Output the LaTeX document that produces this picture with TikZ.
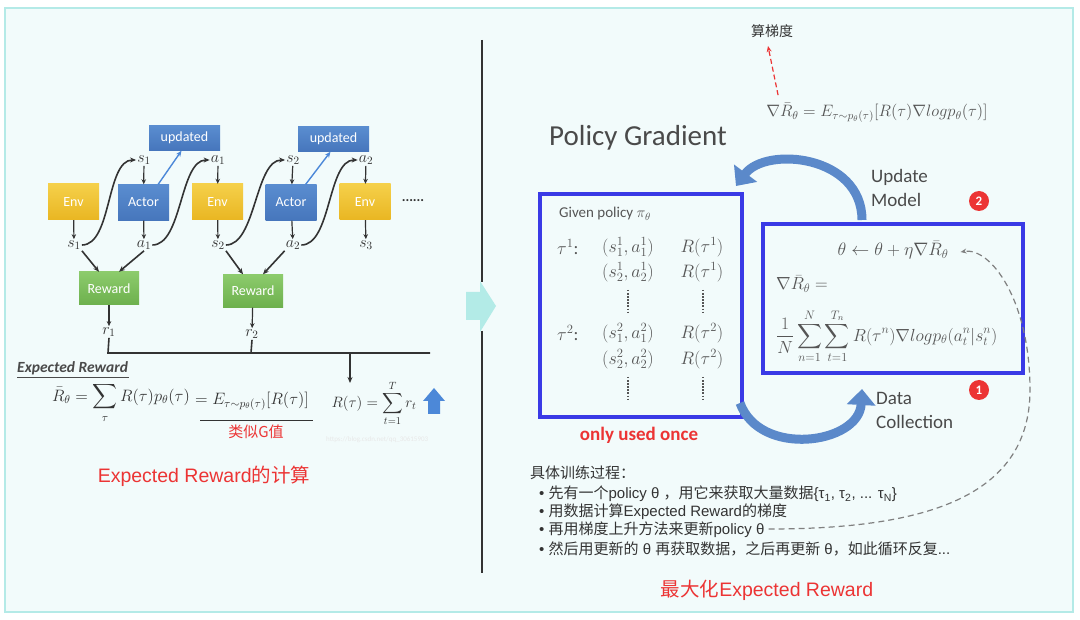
\RequirePackage{fix-cm}
\documentclass[tikz,border=0pt]{standalone}
\usepackage{amsmath}
\usepackage{fontspec}
\setmainfont{Carlito}
\newfontfamily\cjk{Noto Sans CJK SC}
\newfontfamily\lsans{Liberation Sans}
\newcommand\zh[1]{{\cjk #1}}
\usetikzlibrary{arrows.meta,calc}
\definecolor{bgc}{HTML}{F2FBFB}
\definecolor{framec}{HTML}{B4EAE7}
\definecolor{envtop}{HTML}{F5D04A}
\definecolor{envbot}{HTML}{E9B622}
\definecolor{acttop}{HTML}{5A8DD0}
\definecolor{actbot}{HTML}{4676BC}
\definecolor{rewtop}{HTML}{8CCB6C}
\definecolor{rewbot}{HTML}{6DB04D}
\definecolor{boxblue}{HTML}{3A3AE6}
\definecolor{arcblue}{HTML}{5B89CA}
\definecolor{redc}{HTML}{EC3434}
\definecolor{darkc}{HTML}{333333}
\definecolor{greyc}{HTML}{4A4A4A}
\definecolor{lgreyc}{HTML}{555555}
\definecolor{updblue}{HTML}{4C88D8}
\definecolor{cyanarr}{HTML}{B3EBE7}
\tikzset{
  envbox/.style={rectangle, top color=envtop, bottom color=envbot, draw=none, minimum width=51pt, minimum height=36pt, text=white, font=\fontsize{14}{16}\selectfont, inner sep=0pt},
  actbox/.style={envbox, top color=acttop, bottom color=actbot},
  updbox/.style={envbox, top color=acttop, bottom color=actbot, minimum width=71pt, minimum height=25pt},
  rewbox/.style={envbox, top color=rewtop, bottom color=rewbot, minimum width=60pt, minimum height=33pt},
  lab/.style={font=\fontsize{16}{18}\selectfont, inner sep=1pt, text=darkc},
  arr/.style={-{Stealth[length=6pt,width=5pt]}, line width=1.6pt, draw=darkc},
  sarr/.style={-{Stealth[length=5pt,width=4.5pt]}, line width=1.2pt, draw=darkc},
  fml/.style={font=\fontsize{16.5}{19}\selectfont, text=darkc, inner sep=0pt},
  gfml/.style={font=\fontsize{16.5}{19}\selectfont, text=lgreyc, inner sep=0pt},
  bfml/.style={font=\fontsize{18}{20}\selectfont, text=lgreyc, inner sep=0pt},
  bigbox/.style={draw=boxblue, line width=4pt, inner sep=0pt},
  redcirc/.style={circle, fill=redc, text=white, font=\bfseries\fontsize{13}{15}\selectfont, minimum size=20pt, inner sep=0pt},
  cjktxt/.style={font=\lsans\fontsize{15}{17}\selectfont, text=darkc, inner sep=0pt, anchor=west},
}
\begin{document}
\begin{tikzpicture}[x=1pt,y=-1pt]
\useasboundingbox (0,0) rectangle (1080,620);
% frame
\draw[framec, line width=2pt, fill=bgc] (5,8) rectangle (1073,612);
% divider
\draw[darkc, line width=2pt] (482,40) -- (482,282) (482,331) -- (482,573);
\fill[cyanarr] (466,292) -- (480,292) -- (480,281) -- (496,306) -- (480,332) -- (480,320) -- (466,320) -- cycle;

% ---------------- left panel
\node[envbox] (env1) at (73.5,202) {Env};
\node[actbox] (act1) at (143.5,202.5) {Actor};
\node[envbox] (env2) at (217.5,202) {Env};
\node[actbox] (act2) at (291,202.5) {Actor};
\node[envbox] (env3) at (365,202) {Env};
\node[font=\bfseries\fontsize{14}{15}\selectfont, text=darkc] (dots) at (413,201) {......};
\node[updbox] (upd1) at (184.5,138) {updated};
\node[updbox] (upd2) at (333.5,139) {updated};

\node[lab] (s1t) at (144,160) {$s_1$};
\node[lab] (a1t) at (218,160) {$a_1$};
\node[lab] (s2t) at (293,160) {$s_2$};
\node[lab] (a2t) at (366,160) {$a_2$};
\node[lab] (s1b) at (74,245) {$s_1$};
\node[lab] (a1b) at (144,245) {$a_1$};
\node[lab] (s2b) at (218,245) {$s_2$};
\node[lab] (a2b) at (293,245) {$a_2$};
\node[lab] (s3b) at (366,245) {$s_3$};

\draw[sarr] (s1t) -- (act1);
\draw[sarr] (a1t) -- (env2);
\draw[sarr] (s2t) -- (act2);
\draw[sarr] (a2t) -- (env3);
\draw[sarr] (env1) -- (s1b);
\draw[sarr] (act1) -- (a1b);
\draw[sarr] (env2) -- (s2b);
\draw[sarr] (act2) -- (a2b);
\draw[sarr] (env3) -- (s3b);

\draw[arr] (s1b.east) .. controls +(30,0) and +(-30,0) .. (s1t.west);
\draw[arr] (a1b.east) .. controls +(30,0) and +(-30,0) .. (a1t.west);
\draw[arr] (s2b.east) .. controls +(30,0) and +(-30,0) .. (s2t.west);
\draw[arr] (a2b.east) .. controls +(30,0) and +(-30,0) .. (a2t.west);

\draw[updblue, line width=1.4pt, -{Stealth[length=6pt,width=5pt]}] ($(act1.north east)+(-11,0)$) -- ($(upd1.south)+(-3,0)$);
\draw[updblue, line width=1.4pt, -{Stealth[length=6pt,width=5pt]}] ($(act2.north east)+(-11,0)$) -- ($(upd2.south)+(-3,0)$);

\node[rewbox] (rew1) at (109,288.5) {Reward};
\node[rewbox] (rew2) at (253,291) {Reward};
\draw[arr] (s1b.south east) -- ($(rew1.north)+(-10,0)$);
\draw[arr] (a1b.south) -- ($(rew1.north)+(10,0)$);
\draw[arr] (s2b.south east) -- ($(rew2.north)+(-10,0)$);
\draw[arr] (a2b.south west) -- ($(rew2.north)+(10,0)$);

\node[lab] (r1) at (109,332) {$r_1$};
\node[lab] (r2) at (252,334) {$r_2$};
\draw[sarr] (rew1) -- (r1);
\draw[sarr] (rew2) -- (r2);

\coordinate (bl) at (108,353);
\coordinate (br) at (430,353);
\coordinate (bm) at (251,353);
\coordinate (bR) at (350,353);
\coordinate (Rtop) at (350,383);
\draw[darkc, line width=1.6pt] (r1.south) -- (bl) -- (br);
\draw[darkc, line width=1.6pt] (r2.south) -- (bm);
\draw[arr, line width=1.2pt] (bR) -- (Rtop);

\node[font=\bfseries\itshape\fontsize{15.5}{17}\selectfont, text=greyc, anchor=west, inner sep=0pt] (erh) at (17,368) {Expected Reward};
\draw[greyc, line width=1.2pt] (17,377.5) -- (129,377.5);

\node[fml] (Rbar) at (121,403) {$\displaystyle \bar R_\theta=\sum_\tau R(\tau)p_\theta(\tau)$};
\node[fml] (Exp) at (252,401) {$=E_{\tau\sim p_\theta(\tau)}[R(\tau)]$};
\draw[darkc, line width=0.8pt] (200,420) -- (313,420);
\node[font=\cjk\fontsize{15}{17}\selectfont, text=redc] (G) at (256,432) {类似G值};
\node[font=\fontsize{7}{8}\selectfont, text=black!9, anchor=west, inner sep=0pt] (wm) at (326,440) {https://blog.csdn.net/qq\_30615903};
\node[font=\fontsize{15}{17}\selectfont, text=darkc, inner sep=0pt] (Rsum) at (374,403) {$\displaystyle R(\tau)=\sum_{t=1}^{T} r_t$};
\fill[updblue] (434,388) -- (445,401) -- (440,401) -- (440,414) -- (428,414) -- (428,401) -- (423,401) -- cycle;

\node[font=\lsans\fontsize{19.5}{21}\selectfont, text=redc] (lt) at (204,476) {Expected Reward\zh{的计算}};

% ---------------- right panel
\node[font=\cjk\fontsize{14}{16}\selectfont, text=darkc] (suan) at (772,31) {算梯度};
\node[gfml] (grad) at (877,113) {$\nabla\bar R_\theta=E_{\tau\sim p_\theta(\tau)}[R(\tau)\nabla log p_\theta(\tau)]$};
\draw[redc, line width=1.2pt, dash pattern=on 5pt off 3pt, -{Stealth[length=6pt,width=5pt]}] ($(grad.north west)+(12,-8)$) -- ($(suan.south)+(-4,5)$);

\node[font=\fontsize{29}{32}\selectfont, text=greyc] (pg) at (638,138) {Policy Gradient};

\node[bigbox, minimum width=202pt, minimum height=223pt] (lbox) at (641,305.5) {};
\node[bigbox, minimum width=260pt, minimum height=149pt] (rbox) at (893,298.5) {};

\node[font=\fontsize{15}{17}\selectfont, text=lgreyc, anchor=west, inner sep=0pt] (given) at (559,214) {Given policy $\pi_\theta$};
\node[bfml, anchor=west] (tau1) at (557,247) {$\tau^1$:};
\node[bfml] (p11) at (628,247) {$(s_1^1,a_1^1)$};
\node[bfml] (q11) at (702,247) {$R(\tau^1)$};
\node[bfml] (p12) at (628,272) {$(s_2^1,a_2^1)$};
\node[bfml] (q12) at (702,272) {$R(\tau^1)$};
\node[bfml, anchor=west] (tau2) at (557,333) {$\tau^2$:};
\node[bfml] (p21) at (628,333) {$(s_1^2,a_1^2)$};
\node[bfml] (q21) at (702,333) {$R(\tau^2)$};
\node[bfml] (p22) at (628,359) {$(s_2^2,a_2^2)$};
\node[bfml] (q22) at (702,359) {$R(\tau^2)$};
\draw[lgreyc, line width=1.6pt, dash pattern=on 1.5pt off 1.6pt] (628,290) -- (628,313) (703,290) -- (703,313) (628,377) -- (628,400) (703,377) -- (703,400);
\node[font=\bfseries\fontsize{19}{21}\selectfont, text=redc] (once) at (639,435) {only used once};

\node[font=\fontsize{18}{20}\selectfont, text=lgreyc, inner sep=0pt] (upd) at (893,250) {$\theta\leftarrow\theta+\eta\nabla\bar R_\theta$};
\node[font=\fontsize{17.5}{20}\selectfont, text=lgreyc, inner sep=0pt, anchor=west] (gr2) at (776,284) {$\nabla\bar R_\theta=$};
\node[font=\fontsize{17.5}{20}\selectfont, text=lgreyc, inner sep=0pt, anchor=west] (gr3) at (776,336) {$\displaystyle \frac{1}{N}\sum_{n=1}^{N}\sum_{t=1}^{T_n}R(\tau^n)\nabla log p_\theta(a_t^n|s_t^n)$};

\node[font=\fontsize{19}{24}\selectfont, text=greyc, align=left, anchor=west, inner sep=0pt] (um) at (871,188) {Update\\Model};
\node[font=\fontsize{19}{24}\selectfont, text=greyc, align=left, anchor=west, inner sep=0pt] (dc) at (876,410) {Data\\Collection};
\node[redcirc] (c2) at (979,201) {2};
\node[redcirc] (c1) at (979,390) {1};

\draw[arcblue, line width=9pt, -{Triangle[length=16pt,width=28pt]}] ($(rbox.north)+(-31,-2)$) .. controls +(0,-65) and +(30,-40) .. ($(lbox.north east)+(-8,-6)$);
\draw[arcblue, line width=9pt, -{Triangle[length=16pt,width=28pt]}] ($(lbox.south east)+(-4,-16)$) .. controls +(20,55) and +(-3,55) .. ($(rbox.south)+(-31,14)$);

% bottom text
\node[cjktxt] (proc) at (530,473) {\zh{具体训练过程：}};
\node[cjktxt] (b1) at (539,494) {• \zh{先有一个}policy θ \zh{，用它来获取大量数据}\{τ\textsubscript{1}, τ\textsubscript{2}, ... τ\textsubscript{N}\}};
\node[cjktxt] (b2) at (539,512) {• \zh{用数据计算}Expected Reward\zh{的梯度}};
\node[cjktxt] (b3) at (539,530) {• \zh{再用梯度上升方法来更新}policy θ};
\node[cjktxt] (b4) at (539,549) {• \zh{然后用更新的} θ \zh{再获取数据，之后再更新} θ\zh{，如此循环反复}...};
\draw[gray, line width=1.2pt, dash pattern=on 6pt off 4pt, -{Stealth[length=6pt,width=5pt]}] ($(b3.east)+(4,-1)$) .. controls +(150,0) and +(0,110) .. (1030,390) .. controls +(0,-90) and +(30,-5) .. ($(upd.east)+(12,2)$);
\node[font=\lsans\fontsize{19.5}{21}\selectfont, text=redc] (rt) at (767,590) {\zh{最大化}Expected Reward};
\end{tikzpicture}
\end{document}
